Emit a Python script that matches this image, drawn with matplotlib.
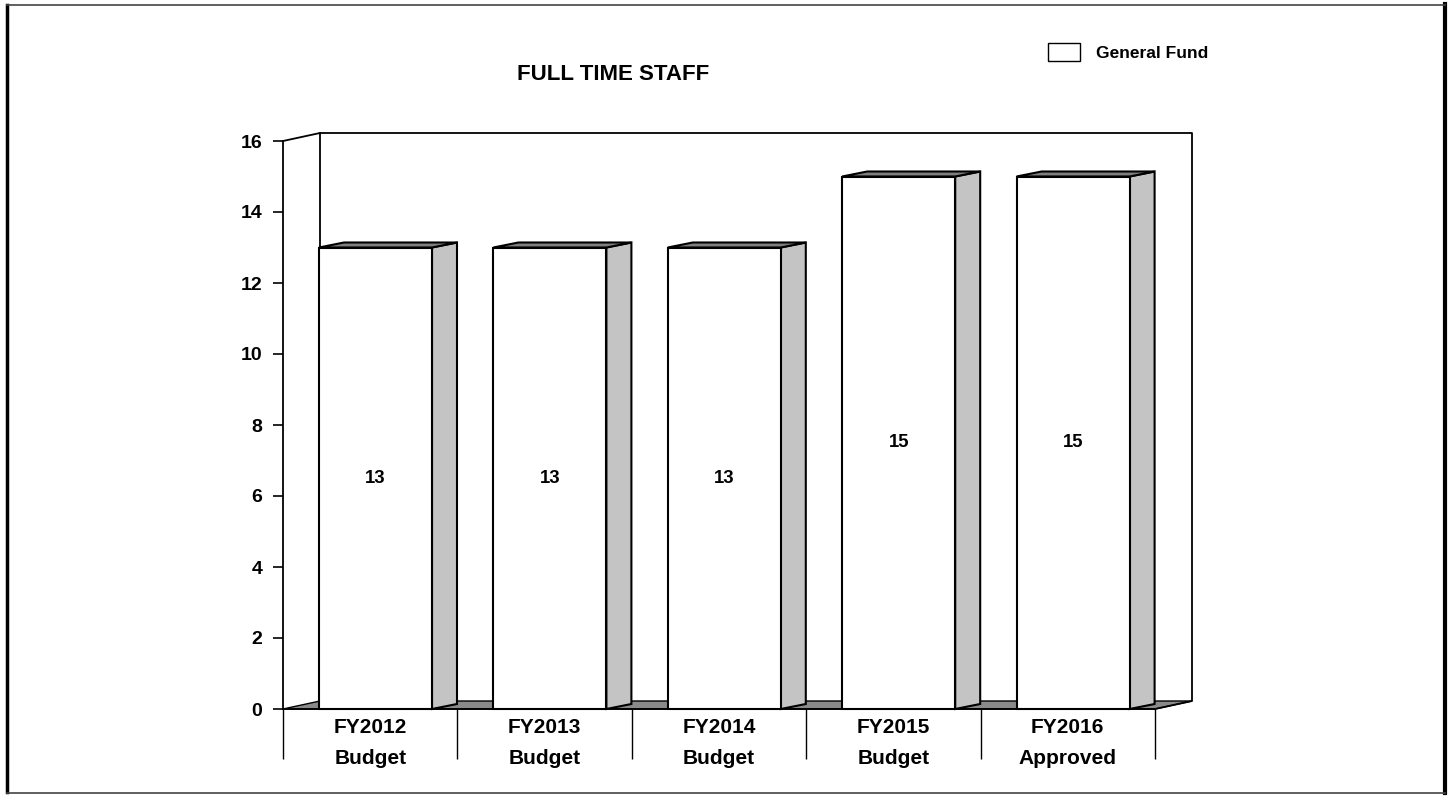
import matplotlib.pyplot as plt
from matplotlib.patches import Rectangle, Polygon, Patch
from matplotlib.lines import Line2D

plt.rcParams['font.family'] = ['Liberation Sans', 'DejaVu Sans']
plt.rcParams['font.weight'] = 'bold'

years = ["FY2012", "FY2013", "FY2014", "FY2015", "FY2016"]
stages = ["Budget", "Budget", "Budget", "Budget", "Approved"]
staff = [13, 13, 13, 15, 15]
yticks = [0, 2, 4, 6, 8, 10, 12, 14, 16]

W, H = 1454, 797
fig = plt.figure(figsize=(W / 100, H / 100), dpi=100)
ax = fig.add_axes([283 / W, (H - 709) / H, (1155 - 283) / W, (709 - 141) / H])
ax.set_xlim(0, len(staff))
ax.set_ylim(0, 16)

# pixel sizes -> data units
px_x = len(staff) / (1155 - 283)
px_y = 16 / (709 - 141)
wdx, wdy = 37 * px_x, 8 * px_y      # wall depth
bdx, bdy = 25 * px_x, 5 * px_y      # bar depth
off, bw = 36 * px_x, 113 * px_x

n = len(staff)
lk = dict(color='black', lw=1.3, clip_on=False)

# floor
ax.add_patch(Polygon([(0, 0), (n, 0), (n + wdx, wdy), (wdx, wdy)],
                     closed=True, fc='#8a8a8a', ec='black', lw=1, clip_on=False, zorder=1))
# back wall
ax.plot([0, wdx, n + wdx, n + wdx, n], [16, 16 + wdy, 16 + wdy, wdy, 0], **lk)
ax.plot([wdx, wdx], [wdy, 16 + wdy], **lk)

# bars
for i, v in enumerate(staff):
    x0 = i + off
    x1 = x0 + bw
    ax.add_patch(Polygon([(x1, 0), (x1 + bdx, bdy), (x1 + bdx, v + bdy), (x1, v)],
                         closed=True, fc='#c4c4c4', ec='black', lw=1.5, clip_on=False, zorder=3))
    ax.add_patch(Polygon([(x0, v), (x0 + bdx, v + bdy), (x1 + bdx, v + bdy), (x1, v)],
                         closed=True, fc='#7f7f7f', ec='black', lw=1.5, clip_on=False, zorder=3))
    ax.add_patch(Rectangle((x0, 0), bw, v, fc='white', ec='black', lw=1.5,
                           clip_on=False, zorder=4))
    ax.text(x0 + bw / 2, v / 2, str(v), ha='center', va='center',
            fontsize=13.3, fontweight='bold', zorder=5)

# spines / ticks
for s in ['top', 'right']:
    ax.spines[s].set_visible(False)
ax.spines['left'].set_linewidth(1.3)
ax.spines['bottom'].set_linewidth(1.3)
ax.patch.set_alpha(0)
ax.set_yticks(yticks)
ax.tick_params(axis='y', length=7, width=1.2, pad=8, labelsize=14)
ax.set_xticks(range(n + 1))
ax.set_xticklabels([])
ax.tick_params(axis='x', length=36, width=1, direction='out')

for i in range(n):
    ax.annotate(years[i], (i + 0.5, 0), xytext=(0, -13), textcoords='offset points',
                ha='center', va='center', fontsize=15, fontweight='bold')
    ax.annotate(stages[i], (i + 0.5, 0), xytext=(0, -35.5), textcoords='offset points',
                ha='center', va='center', fontsize=15, fontweight='bold')

fig.text(613 / W, 1 - 75 / H, "FULL TIME STAFF", ha='center', va='center',
         fontsize=16, fontweight='bold')

leg = fig.legend(handles=[Patch(fc='white', ec='black', lw=1, label='General Fund')],
                 loc='upper left', bbox_to_anchor=(1048 / W, 1 - 43 / H),
                 bbox_transform=fig.transFigure, frameon=False, borderpad=0,
                 borderaxespad=0, handlelength=1.85, handleheight=1.2,
                 handletextpad=0.9, prop={'size': 12.5, 'weight': 'bold'})

# page border
fig.add_artist(Line2D([7 / W, 7 / W], [5 / H, 1 - 5 / H], color='black', lw=2.5))
fig.add_artist(Line2D([1445 / W, 1445 / W], [4 / H, 1 - 4 / H], color='black', lw=3))
fig.add_artist(Line2D([7 / W, 1445 / W], [1 - 5 / H, 1 - 5 / H], color='#444444', lw=1.2))
fig.add_artist(Line2D([7 / W, 1445 / W], [4 / H, 4 / H], color='#444444', lw=1.2))

fig.savefig('out.png', dpi=100)
